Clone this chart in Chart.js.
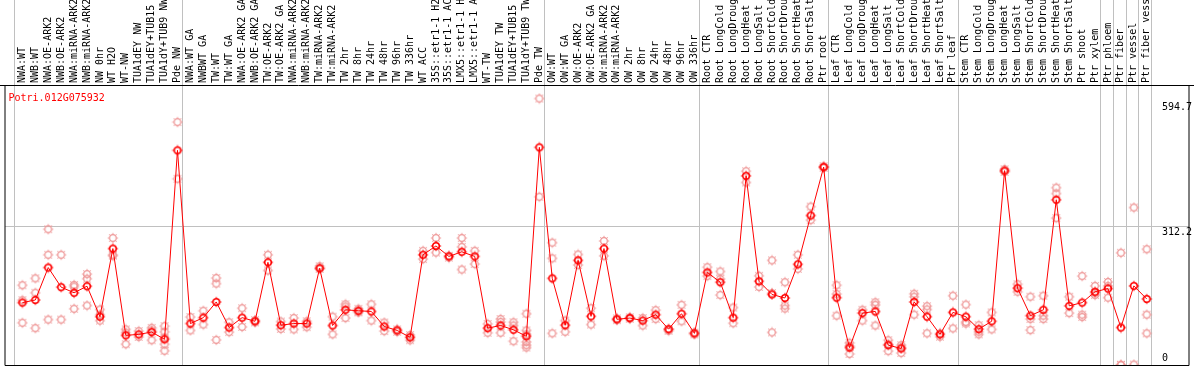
<!DOCTYPE html>
<html>
<head>
<meta charset="utf-8">
<script src="https://cdn.jsdelivr.net/npm/chart.js@4.4.1/dist/chart.umd.min.js"></script>
<style>
    html, body { margin: 0; padding: 0; background: #fff; }
    canvas { display: block; }
</style>
</head>
<body>
<canvas id="profileCtx" width="1194" height="370"></canvas>
<script>
const geneId = 'Potri.012G075932';

const categories = [
    'NWA:WT', 'NWB:WT', 'NWA:OE-ARK2', 'NWB:OE-ARK2', 'NWA:miRNA-ARK2', 'NWB:miRNA-ARK2',
    'NW 0hr', 'WT H2O', 'WT-NW', 'TUA1dEY NW', 'TUA1dEY+TUB15 NW', 'TUA1dY+TUB9 NW', 'Pde NW',
    'NWA:WT GA', 'NWBWT GA', 'TW:WT', 'TW:WT GA', 'NWA:OE-ARK2 GA', 'NWB:OE-ARK2 GA',
    'TW:OE-ARK2', 'TW:OE-ARK2 GA', 'NWA:miRNA-ARK2 GA', 'NWB:miRNA-ARK2 GA', 'TW:miRNA-ARK2',
    'TW:miRNA-ARK2 GA', 'TW 2hr', 'TW 8hr', 'TW 24hr', 'TW 48hr', 'TW 96hr', 'TW 336hr',
    'WT ACC', '35S::etr1-1 H2O', '35S::etr1-1 ACC', 'LMX5::etr1-1 H2O', 'LMX5::etr1-1 ACC',
    'WT-TW', 'TUA1dEY TW', 'TUA1dEY+TUB15 TW', 'TUA1dY+TUB9 TW', 'Pde TW',
    'OW:WT', 'OW:WT GA', 'OW:OE-ARK2', 'OW:OE-ARK2 GA', 'OW:miRNA-ARK2', 'OW:miRNA-ARK2 GA',
    'OW 2hr', 'OW 8hr', 'OW 24hr', 'OW 48hr', 'OW 96hr', 'OW 336hr',
    'Root CTR', 'Root LongCold', 'Root LongDrought', 'Root LongHeat', 'Root LongSalt',
    'Root ShortCold', 'Root ShortDrought', 'Root ShortHeat', 'Root ShortSalt', 'Ptr root',
    'Leaf CTR', 'Leaf LongCold', 'Leaf LongDrought', 'Leaf LongHeat', 'Leaf LongSalt',
    'Leaf ShortCold', 'Leaf ShortDrought', 'Leaf ShortHeat', 'Leaf ShortSalt', 'Ptr leaf',
    'Stem CTR', 'Stem LongCold', 'Stem LongDrought', 'Stem LongHeat', 'Stem LongSalt',
    'Stem ShortCold', 'Stem ShortDrought', 'Stem ShortHeat', 'Stem ShortSalt', 'Ptr shoot',
    'Ptr xylem', 'Ptr phloem', 'Ptr fiber', 'Ptr vessel', 'Ptr fiber vessel'
];

// mean expression per sample
const means = [
    140.6, 146.5, 219.6, 175.4, 162.8, 177.6, 108.9, 262.4, 66.8, 69.0, 74.2, 58.0, 483.8,
    93.4, 106.7, 142.1, 84.5, 106.7, 98.5, 231.4, 89.7, 93.4, 93.4, 218.1, 89.0, 124.4,
    122.2, 120.7, 86.8, 77.9, 62.4, 248.4, 268.3, 244.7, 255.1, 244.7, 83.0, 89.0, 79.3,
    64.7, 490.5, 195.3, 89.7, 235.8, 109.6, 262.4, 103.0, 105.8, 100.1, 113.4, 80.8, 115.6,
    71.3, 208.6, 186.5, 106.7, 426.3, 188.7, 159.0, 151.0, 227.0, 337.0, 446.2, 151.7,
    39.4, 117.0, 120.7, 44.7, 37.2, 142.1, 108.9, 69.1, 118.5, 108.9, 80.8, 98.5, 438.0,
    173.2, 111.2, 124.4, 372.4, 133.3, 140.6, 165.0, 172.3, 84.5, 178.3, 148.8
];

// individual replicates per sample
const replicates = [
    [179.8, 146.2, 95.2], [195.3, 162.8, 83.0], [306.0, 248.4, 102.3], [248.4, 102.3],
    [180.5, 176.7, 126.7], [204.8, 194.4, 134.0], [125.1, 113.4, 100.1], [286.1, 248.4, 246.2],
    [80.2, 73.0, 46.9], [76.4, 63.1], [83.7, 77.9, 55.8], [87.5, 74.8, 61.6, 46.9, 32.1],
    [547.4, 419.6], [108.1, 77.9], [122.2, 91.2], [196.0, 183.4, 56.5], [96.3, 74.2],
    [128.0, 85.9], [96.0, 101.0], [248.4, 213.0], [98.0, 81.4], [105.8, 80.2],
    [98.5, 85.3], [222.5, 216.6], [108.9, 69.1], [136.9, 131.8, 105.8], [126.7, 120.7, 118.5],
    [136.9, 100.1], [95.7, 76.4], [80.2, 74.8], [67.5, 62.0, 55.8], [257.3, 238.7],
    [286.1, 253.5], [246.2, 242.0], [286.1, 266.2, 215.2], [257.3, 227.6], [92.6, 72.6],
    [103.6, 97.0, 72.6], [96.3, 89.0, 53.6], [115.6, 77.9, 69.1, 52.0, 44.7, 39.4],
    [600.5, 379.1], [275.7, 240.3, 71.3], [100.1, 74.8], [249.1, 225.4], [128.0, 91.2],
    [279.5, 246.2], [105.0, 101.0], [107.5, 104.0], [105.8, 89.0], [123.6, 103.6],
    [80.2, 77.0], [135.5, 98.5], [73.0, 69.0], [220.3, 200.4], [210.8, 193.8, 157.7],
    [129.5, 94.1], [436.7, 411.4], [201.1, 176.0], [235.8, 162.0, 73.5], [186.5, 134.0, 127.3],
    [248.4, 216.6], [357.0, 326.6], [448.0, 444.0], [179.8, 159.9, 111.2], [43.2, 24.8, 50.0],
    [124.4, 100.1], [141.3, 135.5, 89.0], [55.8, 46.9, 31.4], [44.7, 39.4, 27.0],
    [160.5, 153.9, 113.4], [132.4, 125.1, 71.3], [71.3, 63.8], [156.1, 82.4],
    [136.2, 97.0, 93.4], [89.7, 74.8, 69.1], [118.5, 80.2], [441.0, 435.0], [182.0, 165.0],
    [153.9, 103.6, 78.6], [156.1, 111.2, 103.6], [399.7, 386.4, 331.0], [153.9, 117.0],
    [200.4, 113.4, 108.1], [178.3, 162.0, 157.7], [187.1, 178.3, 151.7], [252.9, 0.6, 0.0],
    [354.8, 1.1], [260.9, 113.4, 71.3]
];

const yTickValues = [0, 312.2, 594.7];
const yGridValues = [312.2];
// first sample index of each group (last entry closes the plot)
const groupBreaks = [0, 13, 41, 53, 63, 73, 84, 85, 86, 87, 88];

const FONT = '"DejaVu Sans Mono", "Liberation Mono", monospace';

function makeMarker(color, lineWidth, spokes)
{
    const c = document.createElement('canvas');
    c.width = 12;
    c.height = 12;
    const g = c.getContext('2d');
    g.strokeStyle = color;
    g.lineWidth = lineWidth;
    g.beginPath();
    g.arc(6, 6, 3.3, 0, Math.PI * 2);
    g.stroke();
    g.lineWidth = 1;
    for (let k = 0; k < spokes; k++) {
        const a = k * Math.PI * 2 / spokes;
        g.beginPath();
        g.moveTo(6 + Math.cos(a) * 3.8, 6 + Math.sin(a) * 3.8);
        g.lineTo(6 + Math.cos(a) * 5.2, 6 + Math.sin(a) * 5.2);
        g.stroke();
    }
    return c;
}

const meanMarker = makeMarker('#ff0000', 1.6, 4);
const repMarker = makeMarker('rgb(238,150,150)', 1.2, 8);

const meanPoints = means.map((v, i) => ({ x: i, y: v }));
const repPoints = [];
replicates.forEach((reps, i) => reps.forEach(v => repPoints.push({ x: i, y: v })));

const framePlugin = {
    id: 'frame',
    beforeDraw(chart) {
        const { ctx, chartArea, scales } = chart;
        ctx.save();
        ctx.strokeStyle = '#c0c0c0';
        ctx.lineWidth = 1;
        groupBreaks.forEach(b => {
            const px = Math.floor(scales.x.getPixelForValue(b - 0.6)) + 0.5;
            ctx.beginPath();
            ctx.moveTo(px, 0);
            ctx.lineTo(px, chartArea.bottom);
            ctx.stroke();
        });
        ctx.restore();
    },
    afterDraw(chart) {
        const { ctx, chartArea, scales } = chart;
        ctx.save();
        ctx.strokeStyle = '#000';
        ctx.lineWidth = 1;
        ctx.beginPath();
        ctx.moveTo(0, chartArea.top + 0.5);
        ctx.lineTo(chart.width, chartArea.top + 0.5);
        ctx.moveTo(chartArea.left, chartArea.top);
        ctx.lineTo(chartArea.left, chartArea.bottom + 0.5);
        ctx.lineTo(chartArea.right, chartArea.bottom + 0.5);
        ctx.lineTo(chartArea.right, chartArea.top);
        ctx.stroke();

        ctx.font = '10px ' + FONT;
        ctx.textAlign = 'left';
        ctx.textBaseline = 'alphabetic';
        ctx.fillStyle = '#000';
        yTickValues.forEach(v => {
            const py = scales.y.getPixelForValue(v);
            const ty = v === 0 ? py - 4 : py + 8.5;
            ctx.fillText(v === 0 ? '0' : v.toFixed(1), 1162, ty);
        });

        ctx.fillStyle = '#ff0000';
        ctx.fillText(geneId, 8.5, 101);
        ctx.restore();
    }
};

const chart = new Chart(document.getElementById('profileCtx'), {
    type: 'line',
    data: {
        datasets: [{
            label: 'mean',
            data: meanPoints,
            borderColor: '#ff0000',
            borderWidth: 1,
            tension: 0,
            pointStyle: meanMarker,
            pointRadius: 4,
            fill: false
        },
        {
            label: 'replicates',
            data: repPoints,
            showLine: false,
            pointStyle: repMarker,
            pointRadius: 4
        }]
    },
    options: {
        responsive: false,
        animation: false,
        events: [],
        layout: { padding: { left: 1.5, right: 1.5, top: 0, bottom: 1 } },
        plugins: {
            legend: { display: false },
            tooltip: { enabled: false }
        },
        scales: {
            x: {
                type: 'linear',
                position: 'top',
                min: -17.5 / 13,
                max: 1173.5 / 13,
                afterBuildTicks: scale => { scale.ticks = categories.map((c, i) => ({ value: i })); },
                afterFit: scale => { scale.height = 85; },
                grid: { display: false, drawTicks: false },
                border: { display: false },
                ticks: {
                    autoSkip: false,
                    minRotation: 90,
                    maxRotation: 90,
                    padding: 2,
                    labelOffset: 12,
                    color: '#000',
                    font: { family: FONT, size: 10 },
                    callback: value => categories[value]
                }
            },
            y: {
                type: 'linear',
                position: 'right',
                min: 0,
                max: 631,
                afterBuildTicks: scale => { scale.ticks = yGridValues.map(v => ({ value: v })); },
                afterFit: scale => { scale.width = 0; },
                grid: { color: '#c0c0c0', drawTicks: false },
                border: { display: false },
                ticks: { display: false }
            }
        }
    },
    plugins: [framePlugin]
});
</script>
</body>
</html>
